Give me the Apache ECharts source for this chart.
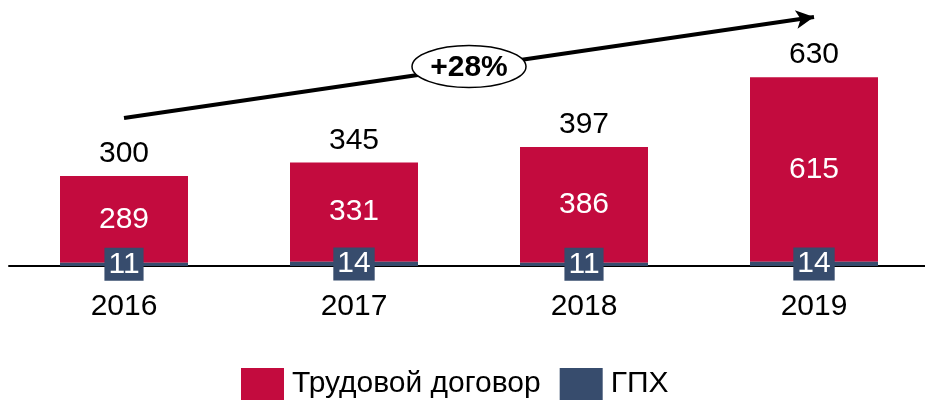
<!DOCTYPE html>
<html>
<head>
<meta charset="utf-8">
<script src="https://cdn.jsdelivr.net/npm/echarts@6/dist/echarts.min.js"></script>
<style>html,body{margin:0;padding:0;background:#fff}#c{width:925px;height:403px}</style>
</head>
<body>
<div id="c"></div>
<script>
var years = ['2016', '2017', '2018', '2019'];
var labor = [289, 331, 386, 615];
var gph = [11, 14, 11, 14];
var totals = [300, 345, 397, 630];
var growthLabel = '+28%';
var arrowStart = ['2016', 493];
var arrowEnd = ['2019', 830];

var RED = '#C30B3E', BLUE = '#374C6D';
var FONT = 'Liberation Sans, Arial, sans-serif';
var FS = 30;
var chart = echarts.init(document.getElementById('c'));
chart.setOption({
  animation: false,
  textStyle: {fontFamily: FONT},
  grid: {left: 9, width: 920, top: 2, height: 264, outerBoundsMode: 'none', containLabel: false},
  legend: {
    top: 368, left: 241, padding: 0, itemWidth: 43, itemHeight: 32, itemGap: 19,
    icon: 'rect',
    textStyle: {fontSize: FS, color: '#000', fontFamily: FONT, padding: [0, 0, 0, 3]},
    data: ['Трудовой договор', 'ГПХ']
  },
  xAxis: {
    type: 'category', data: years,
    axisLine: {lineStyle: {color: '#000', width: 2}},
    axisTick: {show: false},
    axisLabel: {fontSize: FS, color: '#000', margin: 26, fontFamily: FONT}
  },
  yAxis: {type: 'value', min: 0, max: 880, show: false, splitLine: {show: false}},
  series: [
    {
      name: 'ГПХ', type: 'bar', stack: 's', data: gph, barWidth: 128,
      itemStyle: {color: BLUE},
      label: {
        show: true, position: 'inside', color: '#fff', fontSize: FS, fontFamily: FONT,
        backgroundColor: BLUE, padding: [3, 4, 1, 4], lineHeight: 29
      },
      z: 3
    },
    {
      name: 'Трудовой договор', type: 'bar', stack: 's', data: labor, barWidth: 128,
      itemStyle: {color: RED},
      label: {show: true, position: 'inside', color: '#fff', fontSize: FS, fontFamily: FONT},
      z: 2
    },
    {
      name: 'total', type: 'bar', data: totals, barWidth: 128, barGap: '-100%',
      itemStyle: {color: 'rgba(0,0,0,0)'},
      label: {show: true, position: 'top', distance: 7, color: '#000', fontSize: FS, fontFamily: FONT},
      silent: true, z: 1, clip: false,
      markLine: {
        silent: true, symbol: ['none', 'arrow'], symbolSize: [14, 18],
        lineStyle: {color: '#000', width: 4, type: 'solid'},
        label: {show: false},
        data: [[{coord: arrowStart}, {coord: arrowEnd}]]
      }
    }
  ]
});
var p1 = chart.convertToPixel({gridIndex: 0}, arrowStart);
var p2 = chart.convertToPixel({gridIndex: 0}, arrowEnd);
var cx = (p1[0] + p2[0]) / 2, cy = (p1[1] + p2[1]) / 2;
chart.setOption({
  graphic: [
    {type: 'ellipse', shape: {cx: cx, cy: cy - 1, rx: 57, ry: 21},
     style: {fill: '#fff', stroke: '#000', lineWidth: 1.5}, z: 100},
    {type: 'text', x: cx, y: cy, z: 101,
     style: {text: growthLabel, fontSize: FS, fontWeight: 'bold', fontFamily: FONT,
             fill: '#000', align: 'center', verticalAlign: 'middle'}}
  ]
});
</script>
</body>
</html>
